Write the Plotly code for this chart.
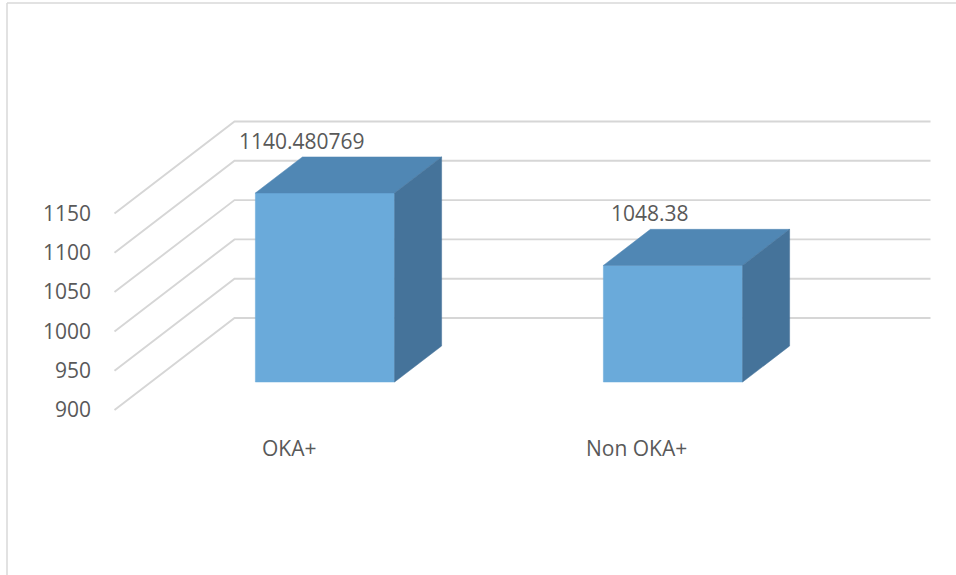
import plotly.graph_objects as go

# ---- data ----
categories = ["OKA+", "Non OKA+"]
values = [1140.480769, 1048.38]
value_labels = ["1140.480769", "1048.38"]
y_ticks = [900, 950, 1000, 1050, 1100, 1150]

# ---- 3D oblique geometry (styling) ----
W, H = 956, 575
ML = 94
BASE = 900
PX_PER_UNIT = 0.786         # vertical pixels per value unit
FRONT_BASE_PX = 410         # pixel row of value 900 on the front edge
CAT0_PX, CAT_STEP_PX = 288.5, 348.0
DEPTH_X = 120 / CAT_STEP_PX           # full depth offset, in category units
DEPTH_Y = 92 / PX_PER_UNIT            # full depth offset, in value units
D_FRONT, D_BACK = 0.304, 0.696        # bar depth span
HALF_W = 0.2

x_lo = (ML - CAT0_PX) / CAT_STEP_PX
x_hi = (W - CAT0_PX) / CAT_STEP_PX
y_lo = BASE - (H - FRONT_BASE_PX) / PX_PER_UNIT
y_hi = BASE + FRONT_BASE_PX / PX_PER_UNIT


def P(x, d, v):
    return x + d * DEPTH_X, v + d * DEPTH_Y


fig = go.Figure()
grid_col = "#d6d6d6"
x_start, x_end = -0.5, len(categories) - 0.5

# gridlines: left wall diagonals + back wall horizontals
for t in y_ticks:
    a = P(x_start, 0, t)
    b = P(x_start, 1, t)
    c = P(x_end, 1, t)
    fig.add_trace(go.Scatter(x=[a[0], b[0], c[0]], y=[a[1], b[1], c[1]], mode="lines",
                             line=dict(color=grid_col, width=1.9), hoverinfo="skip",
                             showlegend=False))

front_col, top_col, side_col = "#6AAADA", "#5087B4", "#45739A"

for i, (cat, v) in enumerate(zip(categories, values)):
    xl, xr = i - HALF_W, i + HALF_W
    faces = [
        ([P(xl, D_FRONT, BASE), P(xr, D_FRONT, BASE), P(xr, D_FRONT, v), P(xl, D_FRONT, v)], front_col),
        ([P(xl, D_FRONT, v), P(xr, D_FRONT, v), P(xr, D_BACK, v), P(xl, D_BACK, v)], top_col),
        ([P(xr, D_FRONT, BASE), P(xr, D_BACK, BASE), P(xr, D_BACK, v), P(xr, D_FRONT, v)], side_col),
    ]
    for pts, col in faces:
        xs = [p[0] for p in pts] + [pts[0][0]]
        ys = [p[1] for p in pts] + [pts[0][1]]
        fig.add_trace(go.Scatter(x=xs, y=ys, mode="lines", fill="toself", fillcolor=col,
                                 line=dict(color=col, width=0.5), hoverinfo="skip",
                                 showlegend=False))

font_fam = "Open Sans"
txt_col = "#595959"

annotations = []
for i, (v, lab) in enumerate(zip(values, value_labels)):
    x, y = P(i, D_BACK, v)
    annotations.append(dict(x=i + D_FRONT * DEPTH_X, y=y, text=lab, showarrow=False,
                            xanchor="center", yanchor="middle", xshift=-23, yshift=16,
                            font=dict(family=font_fam, size=21, color=txt_col)))
for i, cat in enumerate(categories):
    annotations.append(dict(x=i, y=BASE, text=cat, showarrow=False, xanchor="center",
                            yanchor="middle", yshift=-38,
                            font=dict(family=font_fam, size=21, color=txt_col)))

plot_w = W - ML
shapes = [
    dict(type="line", xref="paper", yref="paper", x0=(7 - ML) / plot_w, x1=(7 - ML) / plot_w,
         y0=0, y1=1 - 3 / H, line=dict(color="#d9d9d9", width=1.5)),
    dict(type="line", xref="paper", yref="paper", x0=(7 - ML) / plot_w, x1=1,
         y0=1 - 3 / H, y1=1 - 3 / H, line=dict(color="#d9d9d9", width=1.5)),
]

fig.update_layout(
    width=W, height=H,
    margin=dict(l=ML, r=0, t=0, b=0),
    paper_bgcolor="white", plot_bgcolor="white",
    xaxis=dict(range=[x_lo, x_hi], visible=False, fixedrange=True),
    yaxis=dict(range=[y_lo, y_hi], tickvals=y_ticks, ticktext=[str(t) for t in y_ticks],
               showgrid=False, zeroline=False, showline=False, ticks="",
               ticklabelstandoff=2,
               tickfont=dict(family=font_fam, size=21, color=txt_col), fixedrange=True),
    annotations=annotations,
    shapes=shapes,
    showlegend=False,
)

fig.write_html("out.html")
